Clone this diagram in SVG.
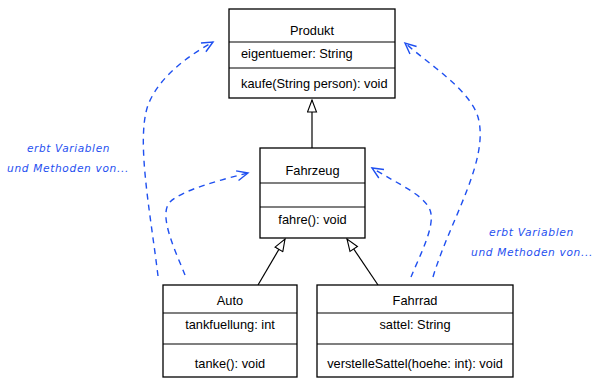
<svg xmlns="http://www.w3.org/2000/svg" width="600" height="381" viewBox="0 0 600 381">
<style>
.box{fill:#fff;stroke:#000;stroke-width:1.3}
.div{stroke:#000;stroke-width:1.2}
.t{font-family:"Liberation Sans",Arial,sans-serif;font-size:12.8px;fill:#000}
.c{text-anchor:middle}
.inh{stroke:#000;stroke-width:1.2;fill:none;marker-end:url(#tri)}
.dep{stroke:#1f50f0;stroke-width:1.4;fill:none;stroke-dasharray:6 5;marker-end:url(#open)}
.note{font-family:"DejaVu Sans",sans-serif;font-style:italic;font-size:10px;fill:#1f50f0;letter-spacing:0.6px}
</style>
<defs>
<marker id="tri" markerUnits="userSpaceOnUse" markerWidth="14" markerHeight="11" refX="12" refY="4.5" orient="auto" viewBox="-1 -1 14 11">
<path d="M0,0 L12,4.5 L0,9 Z" fill="#fff" stroke="#000" stroke-width="1.1"/>
</marker>
<marker id="open" markerUnits="userSpaceOnUse" markerWidth="14" markerHeight="12" refX="11" refY="5" orient="auto" viewBox="-1 -1 14 12">
<path d="M0,0 L11,5 L0,10" fill="none" stroke="#1f50f0" stroke-width="1.4"/>
</marker>
</defs>
<g id="connectors">
<line class="inh" x1="312" y1="148" x2="312" y2="100"/>
<line class="inh" x1="258" y1="285" x2="285" y2="239"/>
<line class="inh" x1="378" y1="285" x2="347" y2="239"/>
<path class="dep" d="M158,276 C150,210 136,140 148,105 C160,75 190,55 213,42"/>
<path class="dep" d="M185,275 C175,250 158,215 170,202 C182,190 220,180 248,173"/>
<path class="dep" d="M411,277 C420,255 436,225 430,210 C424,195 400,185 372,168"/>
<path class="dep" d="M433,277 C450,220 490,160 478,117 C470,90 430,65 405,43"/>
</g>
<g id="Produkt">
<rect class="box" x="229" y="9" width="166" height="89"/>
<line class="div" x1="229" y1="42" x2="395" y2="42"/>
<line class="div" x1="229" y1="68" x2="395" y2="68"/>
<text class="t c" x="312" y="35">Produkt</text>
<text class="t" x="241" y="58">eigentuemer: String</text>
<text class="t" x="241" y="88">kaufe(String person): void</text>
</g>
<g id="Fahrzeug">
<rect class="box" x="260" y="148" width="105" height="90"/>
<line class="div" x1="260" y1="183" x2="365" y2="183"/>
<line class="div" x1="260" y1="207" x2="365" y2="207"/>
<text class="t c" x="312.5" y="175">Fahrzeug</text>
<text class="t c" x="312.5" y="224">fahre(): void</text>
</g>
<g id="Auto">
<rect class="box" x="163" y="285" width="134" height="92"/>
<line class="div" x1="163" y1="313" x2="297" y2="313"/>
<line class="div" x1="163" y1="344" x2="297" y2="344"/>
<text class="t c" x="230" y="305">Auto</text>
<text class="t c" x="230" y="329">tankfuellung: int</text>
<text class="t c" x="230" y="368">tanke(): void</text>
</g>
<g id="Fahrrad">
<rect class="box" x="317" y="285" width="196" height="92"/>
<line class="div" x1="317" y1="313" x2="513" y2="313"/>
<line class="div" x1="317" y1="344" x2="513" y2="344"/>
<text class="t c" x="415" y="305">Fahrrad</text>
<text class="t c" x="415" y="329">sattel: String</text>
<text class="t c" x="415" y="368">verstelleSattel(hoehe: int): void</text>
</g>
<g id="notes">
<text class="note" x="27" y="152" textLength="83" lengthAdjust="spacingAndGlyphs">erbt Variablen</text>
<text class="note" x="7" y="172" textLength="122" lengthAdjust="spacingAndGlyphs">und Methoden von...</text>
<text class="note" x="489" y="236" textLength="85" lengthAdjust="spacingAndGlyphs">erbt Variablen</text>
<text class="note" x="471" y="256" textLength="122" lengthAdjust="spacingAndGlyphs">und Methoden von...</text>
</g>
</svg>
